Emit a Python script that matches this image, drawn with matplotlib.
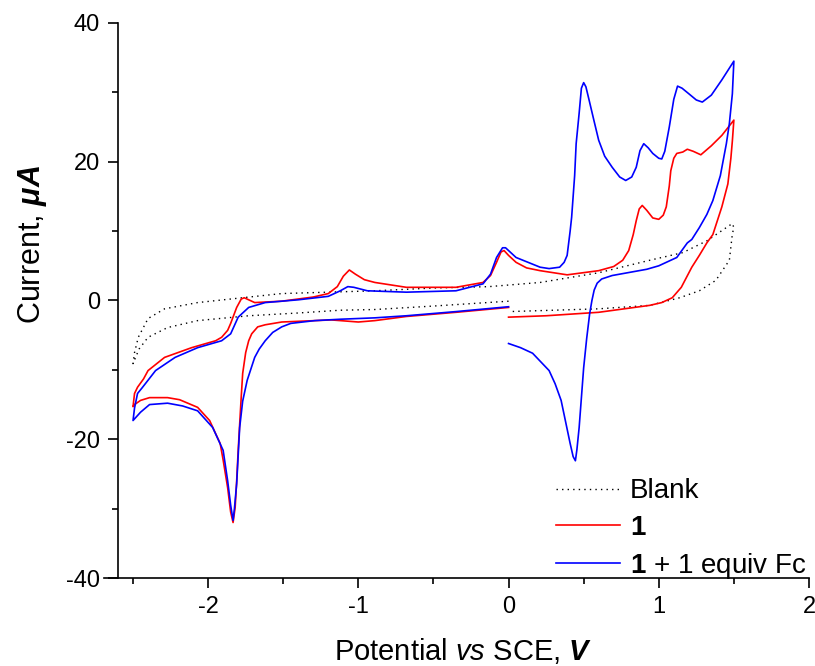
import numpy as np
import matplotlib
matplotlib.use("Agg")
import matplotlib.pyplot as plt
from matplotlib.ticker import MultipleLocator

plt.rcParams['font.family'] = ['Liberation Sans', 'DejaVu Sans']
plt.rcParams['mathtext.fontset'] = 'custom'
plt.rcParams['mathtext.rm'] = 'Liberation Sans'
plt.rcParams['mathtext.it'] = 'Liberation Sans:italic'
plt.rcParams['mathtext.bf'] = 'Liberation Sans:bold'
plt.rcParams['mathtext.bfit'] = 'Liberation Sans:italic:bold'
plt.rcParams['axes.unicode_minus'] = False

# blank electrolyte: 0 -> -2.5 -> +1.5 -> 0 V
blank_e = [0.0, -0.5, -0.89, -1.12, -1.40, -1.73, -2.07, -2.27, -2.40, -2.46, -2.50,
           -2.49, -2.465, -2.40, -2.29, -2.07, -1.77, -1.51, -1.20, -0.89, -0.5, -0.13,
           0.21, 0.6, 0.94, 1.16, 1.32, 1.49,
           1.5, 1.49, 1.47, 1.38, 1.27, 1.14, 0.94, 0.60, 0.0]
blank_i = [-0.1, -0.8, -1.3, -1.4, -1.8, -2.2, -2.9, -3.9, -5.3, -7.0, -9.1,
           -7.5, -5.3, -2.6, -1.2, -0.3, 0.4, 1.0, 1.2, 1.4, 1.8, 2.0,
           2.6, 4.0, 5.8, 6.9, 8.6, 11.1,
           10.5, 9.6, 5.8, 2.9, 1.4, 0.4, -0.7, -1.2, -1.6]

# compound 1
cpd_e = [0.0, -0.35, -0.68, -0.89, -1.0, -1.18, -1.51, -1.62, -1.67, -1.71, -1.73, -1.75,
         -1.77, -1.78, -1.80, -1.81, -1.82, -1.834, -1.85, -1.87, -1.90, -1.92, -1.99,
         -2.07, -2.19, -2.27, -2.39, -2.45, -2.49, -2.50,
         -2.49, -2.47, -2.43, -2.40, -2.29, -2.11, -1.95, -1.91, -1.87, -1.85, -1.81,
         -1.78, -1.76, -1.73, -1.69, -1.51, -1.30, -1.20, -1.14, -1.10, -1.06, -1.02,
         -0.96, -0.89, -0.68, -0.35, -0.17, -0.12, -0.08, -0.05, -0.03, 0.0, 0.05, 0.12,
         0.21, 0.39, 0.60, 0.70, 0.76, 0.80, 0.83, 0.85, 0.87, 0.89, 0.92, 0.96, 1.0,
         1.03, 1.05, 1.07, 1.08, 1.10, 1.12, 1.16, 1.19, 1.23, 1.28, 1.35, 1.42, 1.5,
         1.49, 1.48, 1.46, 1.42, 1.36, 1.32, 1.27, 1.22, 1.15, 1.09, 1.02, 0.94, 0.6,
         0.25, 0.0]
cpd_i = [-1.0, -1.7, -2.3, -2.9, -3.1, -2.8, -3.1, -3.5, -3.8, -4.8, -5.8, -7.5,
         -10.5, -14.0, -21.6, -26.0, -29.8, -32.0, -30.5, -27.0, -23.0, -20.6, -17.3,
         -15.4, -14.3, -14.0, -14.0, -14.4, -15.0, -15.3,
         -13.4, -12.5, -11.3, -10.1, -8.2, -6.8, -5.8, -5.3, -4.3, -3.3, -1.0,
         0.2, 0.4, 0.1, -0.3, -0.1, 0.5, 1.0, 2.0, 3.5, 4.4, 3.8,
         3.0, 2.6, 1.9, 1.9, 2.6, 3.6, 5.5, 7.0, 7.2, 6.5, 5.5, 4.7,
         4.3, 3.7, 4.3, 4.9, 5.8, 7.2, 9.5, 11.5, 13.2, 13.7, 13.0, 11.9, 11.7,
         12.3, 13.5, 16.5, 18.7, 20.5, 21.2, 21.4, 21.8, 21.5, 21.0, 22.3, 23.8, 26.0,
         23.0, 20.5, 16.8, 13.5, 9.5, 8.3, 6.5, 4.8, 1.9, 0.4, -0.3, -0.7, -1.7,
         -2.2, -2.4]

# compound 1 with one equivalent of ferrocene
fc_e = [0.0, -0.35, -0.68, -0.89, -1.12, -1.29, -1.45, -1.51, -1.57, -1.62, -1.66, -1.69,
        -1.74, -1.77, -1.79, -1.81, -1.825, -1.834, -1.85, -1.87, -1.90, -1.97, -2.07,
        -2.17, -2.27, -2.39, -2.45, -2.50,
        -2.49, -2.47, -2.44, -2.35, -2.22, -2.07, -1.91, -1.85, -1.80, -1.73, -1.62,
        -1.40, -1.20, -1.12, -1.07, -1.03, -0.94, -0.68, -0.35, -0.17, -0.12, -0.08,
        -0.04, -0.02, 0.05, 0.21, 0.27, 0.34, 0.37, 0.39, 0.41, 0.42, 0.44, 0.45, 0.47,
        0.485, 0.50, 0.515, 0.535, 0.57, 0.60, 0.64, 0.69, 0.74, 0.78, 0.82, 0.85, 0.875,
        0.90, 0.93, 0.96, 1.0, 1.02, 1.04, 1.07, 1.10, 1.125, 1.155, 1.20, 1.25, 1.29,
        1.35, 1.42, 1.5,
        1.49, 1.47, 1.45, 1.41, 1.36, 1.32, 1.27, 1.22, 1.19, 1.12, 1.0, 0.92, 0.69,
        0.62, 0.59, 0.57, 0.555, 0.54, 0.52, 0.50, 0.485, 0.47, 0.455, 0.445, 0.43,
        0.41, 0.38, 0.35, 0.31, 0.27, 0.16, 0.08, 0.0]
fc_i = [-0.9, -1.6, -2.2, -2.5, -2.7, -2.9, -3.3, -3.8, -4.6, -5.8, -7.0, -8.2,
        -11.5, -14.5, -18.3, -26.4, -30.0, -31.7, -29.5, -26.0, -21.6, -18.3, -15.9,
        -15.2, -14.8, -15.0, -16.1, -17.3,
        -15.5, -13.4, -12.6, -10.1, -8.2, -6.8, -5.8, -4.8, -2.4, -1.0, -0.3,
        0.1, 0.6, 1.4, 2.0, 1.9, 1.4, 1.2, 1.4, 2.4, 3.8, 6.2,
        7.6, 7.6, 6.2, 4.8, 4.6, 4.8, 5.5, 6.5, 10.0, 12.0, 18.0, 22.6, 27.0,
        30.6, 31.4, 30.8, 29.0, 25.8, 23.1, 20.8, 19.2, 17.8, 17.3, 17.8, 19.2, 21.6,
        22.6, 22.0, 21.2, 20.5, 20.4, 21.5, 25.0, 29.0, 30.9, 30.6, 29.8, 28.9, 28.6,
        29.6, 31.8, 34.5,
        29.8, 25.5, 22.6, 18.0, 14.4, 12.4, 10.5, 8.8, 8.3, 6.2, 5.0, 4.5, 3.6,
        3.1, 2.5, 1.5, 0.0, -1.9, -5.5, -9.7, -14.0, -18.3, -21.5, -23.1, -22.5,
        -20.6, -17.5, -14.4, -12.0, -10.1, -7.6, -6.8, -6.2]

fig = plt.figure(figsize=(8.15, 6.66), dpi=100)
ax = fig.add_axes([0.1448, 0.1321, 0.8478, 0.8334])

ax.plot(blank_e, blank_i, color='black', lw=1.0, linestyle=(0, (1, 3)), label='Blank')
ax.plot(cpd_e, cpd_i, color='red', lw=1.2, label=r'$\mathbf{1}$')
ax.plot(fc_e, fc_i, color='blue', lw=1.2, label=r'$\mathbf{1}$ + 1 equiv Fc')

ax.set_xlim(-2.6, 2.0)
ax.set_ylim(-40, 40)
ax.xaxis.set_major_locator(MultipleLocator(1))
ax.xaxis.set_minor_locator(MultipleLocator(0.5))
ax.yaxis.set_major_locator(MultipleLocator(20))
ax.yaxis.set_minor_locator(MultipleLocator(10))
ax.tick_params(which='major', direction='out', length=7, width=1.2, labelsize=17, pad=6)
ax.tick_params(which='minor', direction='out', length=4, width=1.2)

for side in ['top', 'right']:
    ax.spines[side].set_visible(False)
for side in ['left', 'bottom']:
    ax.spines[side].set_linewidth(1.2)
ax.spines['bottom'].set_bounds(-2.69, 2.0)

ax.set_xlabel(r'Potential $\mathit{vs}$ SCE, $\mathbfit{V}$', fontsize=21)
ax.set_ylabel(r'Current, $\mathbfit{\mu A}$', fontsize=22)
ax.xaxis.set_label_coords(0.5, -0.105)
ax.yaxis.set_label_coords(-0.10, 0.6)

leg = ax.legend(loc='lower right', bbox_to_anchor=(1.0, -0.01), frameon=False,
                fontsize=20, handlelength=2.3, handletextpad=0.35, labelspacing=0.37,
                borderaxespad=0.0, borderpad=0.1)

fig.savefig('out.png', dpi=100)
